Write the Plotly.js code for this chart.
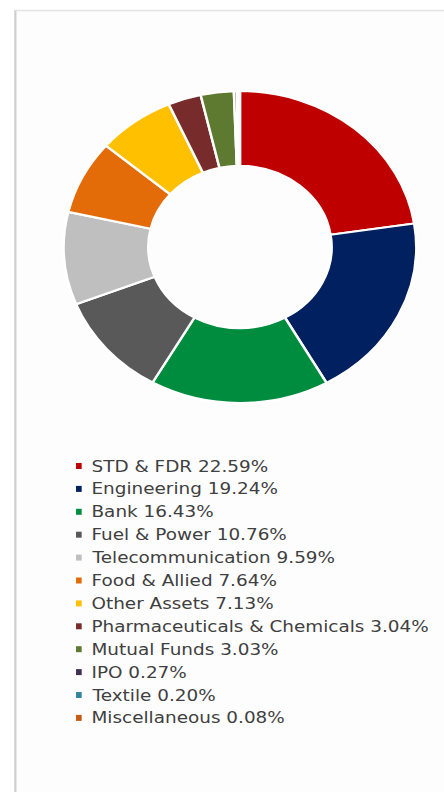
<!DOCTYPE html>
<html>
<head>
<meta charset="utf-8">
<script src="https://cdn.plot.ly/plotly-3.0.1.min.js"></script>
<style>
  html, body { margin: 0; padding: 0; background: #ffffff; overflow: hidden; }
  #wrap { width: 444px; height: 792px; overflow: hidden; }
  #chart { width: 393px; height: 792px; transform: scaleX(1.1298); transform-origin: 0 0; }
</style>
</head>
<body>
<div id="wrap"><div id="chart"></div></div>
<script>
const labels = ["STD & FDR", "Engineering", "Bank", "Fuel & Power", "Telecommunication",
  "Food & Allied", "Other Assets", "Pharmaceuticals & Chemicals", "Mutual Funds",
  "IPO", "Textile", "Miscellaneous"];
const values = [22.59, 19.24, 16.43, 10.76, 9.59, 7.64, 7.13, 3.04, 3.03, 0.27, 0.20, 0.08];
const colors = ["#BE0000", "#002060", "#008C3E", "#595959", "#BFBFBF", "#E36C09",
  "#FFC000", "#772B2B", "#5E7A30", "#403151", "#31859C", "#C55A11"];

const W = 393, H = 792;
const px = x => x / W;
const py = y => (H - y) / H;

const legendTop = 466, legendStep = 22.9;
const annotations = [];
const shapes = [
  {type: "rect", xref: "paper", yref: "paper", x0: px(15), x1: 1.05, y0: -0.05, y1: py(10),
   fillcolor: "#FDFDFD", line: {width: 0}, layer: "below"},
  {type: "line", xref: "paper", yref: "paper", x0: px(13.6), x1: px(13.6), y0: -0.05, y1: py(10),
   line: {color: "#CFCFCF", width: 2}},
  {type: "line", xref: "paper", yref: "paper", x0: px(13.6), x1: 1.05, y0: py(10.5), y1: py(10.5),
   line: {color: "#E4E4E4", width: 1.5}}
];
labels.forEach((lab, i) => {
  const yc = legendTop + i * legendStep;
  shapes.push({type: "rect", xref: "paper", yref: "paper",
    x0: px(67.3), x1: px(72.3), y0: py(yc + 3), y1: py(yc - 3),
    fillcolor: colors[i], line: {width: 0}});
  annotations.push({xref: "paper", yref: "paper", x: px(78.5), y: py(yc),
    xanchor: "left", yanchor: "middle", showarrow: false,
    text: lab + " " + values[i].toFixed(2) + "%",
    font: {family: "DejaVu Sans", size: 16.3, color: "#404040"}});
});

const cx = 212.4, cy = 247, r = 156;
const data = [{
  type: "pie",
  labels: labels,
  values: values,
  sort: false,
  direction: "clockwise",
  rotation: 0,
  hole: 0.52,
  textinfo: "none",
  hoverinfo: "label+percent",
  marker: {colors: colors, line: {color: "#FFFFFF", width: 2.2}},
  domain: {x: [px(cx - r), px(cx + r)], y: [py(cy + r), py(cy - r)]},
  showlegend: false
}];

const layout = {
  width: W, height: H,
  margin: {l: 0, r: 0, t: 0, b: 0},
  paper_bgcolor: "#FFFFFF",
  showlegend: false,
  shapes: shapes,
  annotations: annotations
};

Plotly.newPlot("chart", data, layout, {displayModeBar: false, staticPlot: true});
</script>
</body>
</html>
